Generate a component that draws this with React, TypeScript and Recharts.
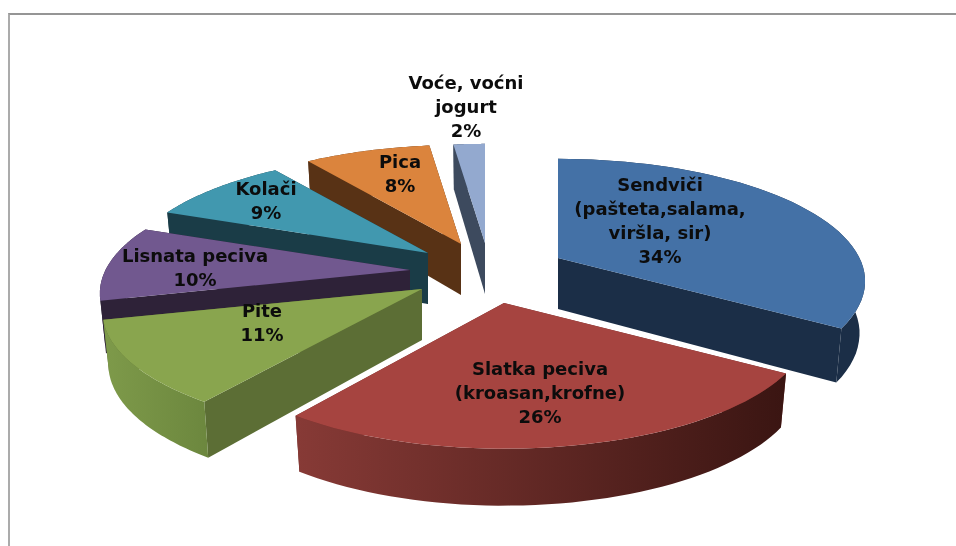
import React from "react";
import { PieChart, Pie } from "recharts";

const categories = ["Sendviči\n(pašteta,salama,\nviršla, sir)", "Slatka peciva\n(kroasan,krofne)", "Pite", "Lisnata peciva", "Kolači", "Pica", "Voće, voćni\njogurt"];
const shares = [34, 26, 11, 10, 9, 8, 2];

const topColors = ["#4471A6", "#A64440", "#89A54E", "#71588F", "#4198AF", "#DB843D", "#93A9CF"];
const sideFrom = ["#1B2E47", "#873A36", "#7E9A4A", "#2E2238", "#1A3C47", "#583215", "#3D4A5E"];
const sideTo = ["#1B2E47", "#3A1512", "#6C873E", "#2E2238", "#1A3C47", "#583215", "#3D4A5E"];
const edgeColors = ["#1B2E47", "#6E2E2A", "#5C6E35", "#2E2238", "#1A3C47", "#583215", "#3D4A5E"];

// Apex displacement of each exploded slice, label anchor relative to the apex, and radius trim
const explode = [[80, -15], [26, 30], [-56, 16], [-68, -3], [-50, -20], [-17, -29], [7, -30]];
const labelAnchor = [[102, -67], [36, 72], [-160, 28], [-215, -8], [-162, -58], [-61, -76], [-19, -154]];
const radiusTrim = [1.005, 1, 1.045, 1.015, 1, 1, 1];

const CX = 478, CY = 273, RY = 118, R = 300, PERSP = 0.19, DEPTH = 51, DEPTH_V = 6, FLOOR_X = 0.982;

const tableRows = categories
  .map((name, i) => ({ name, value: shares[i], idx: i }))
  .reverse();

function project(ax: number, ay: number, u: number, v: number, down: boolean, trim: number) {
  const p = 1 / (1 - PERSP * v);
  const x = ax + R * trim * u * p * (down ? FLOOR_X : 1);
  const y = ay + RY * v * p + (down ? DEPTH + DEPTH_V * v : 0);
  return [x, y];
}
const fmt = (pts: number[][]) => pts.map((q, i) => (i ? "L" : "M") + q[0].toFixed(1) + " " + q[1].toFixed(1)).join(" ");

function Slice3D(props: any) {
  const { startAngle, endAngle, cx, cy, payload } = props;
  const i = payload.idx;
  const ax = cx + explode[i][0];
  const ay = cy + explode[i][1];
  const n = 48;
  const top: number[][] = [];
  const bot: number[][] = [];
  for (let k = 0; k <= n; k++) {
    const t = ((startAngle + ((endAngle - startAngle) * k) / n) * Math.PI) / 180;
    const u = Math.cos(t), v = -Math.sin(t);
    top.push(project(ax, ay, u, v, false, radiusTrim[i]));
    bot.push(project(ax, ay, u, v, true, radiusTrim[i]));
  }
  const apexT = [ax, ay];
  const apexB = project(ax, ay, 0, 0, true, 1);
  const face = (j: number) => fmt([apexT, top[j], bot[j], apexB]) + " Z";
  return (
    <g>
      <path d={face(0)} fill={edgeColors[i]} />
      <path d={face(n)} fill={edgeColors[i]} />
      <path d={fmt([...top, ...bot.slice().reverse()]) + " Z"} fill={`url(#side${i})`} />
      <path d={fmt([apexT, ...top]) + " Z"} fill={topColors[i]} />
    </g>
  );
}

function SliceLabel(props: any) {
  const { cx, cy, payload, index } = props;
  const row = payload ?? tableRows[index];
  const i = row.idx;
  const x = cx + explode[i][0] + labelAnchor[i][0];
  const y = cy + explode[i][1] + labelAnchor[i][1];
  const lines = [...String(row.name).split("\n"), row.value + "%"];
  return (
    <text x={x} y={y} textAnchor="middle" fontFamily="DejaVu Sans" fontWeight="bold" fontSize={18} fill="#0C0C0C">
      {lines.map((l, k) => (
        <tspan key={k} x={x} y={y + k * 24}>{l}</tspan>
      ))}
    </text>
  );
}

export default function App() {
  return (
    <div style={{ position: "absolute", left: 0, top: 0, width: 956, height: 546, background: "#fff", overflow: "hidden" }}>
      <div style={{ position: "absolute", left: 8, top: 13, width: 948, height: 533, borderTop: "2px solid #959595", borderLeft: "2px solid #ABABAB", boxSizing: "border-box" }} />
      <div style={{ position: "absolute", left: 0, top: 0, filter: "blur(0.5px)" }}>
        <PieChart width={956} height={546} margin={{ top: 0, right: 0, bottom: 0, left: 0 }}>
          <defs>
            {categories.map((_, i) => (
              <linearGradient key={i} id={`side${i}`} x1="0" y1="0" x2="1" y2="0">
                <stop offset="0" stopColor={sideFrom[i]} />
                <stop offset="1" stopColor={sideTo[i]} />
              </linearGradient>
            ))}
          </defs>
          <Pie
            data={tableRows}
            dataKey="value"
            nameKey="name"
            cx={CX}
            cy={CY}
            innerRadius={0}
            outerRadius={R}
            startAngle={-270}
            endAngle={90}
            stroke="none"
            isAnimationActive={false}
            shape={Slice3D}
            label={SliceLabel}
            labelLine={false}
          />
        </PieChart>
      </div>
    </div>
  );
}
